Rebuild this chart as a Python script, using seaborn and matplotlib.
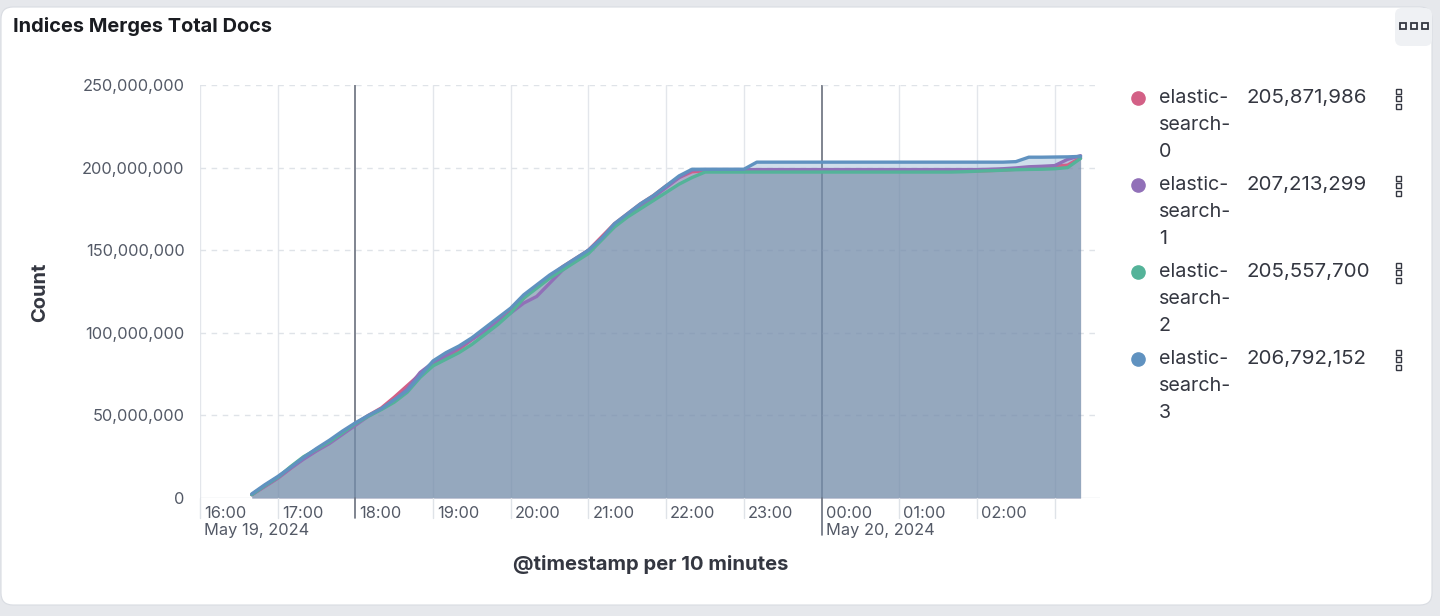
import matplotlib
matplotlib.use("Agg")
import matplotlib.pyplot as plt
import matplotlib.dates as mdates
import matplotlib.transforms as mtransforms
from matplotlib.patches import FancyBboxPatch
import seaborn as sns
import pandas as pd
import numpy as np

# series names, colours and the legend values (last value of each series)
hosts = ["elastic-search-0", "elastic-search-1", "elastic-search-2", "elastic-search-3"]
colors = ["#D36086", "#9170B8", "#54B399", "#6092C0"]
legend_values = ["205,871,986", "207,213,299", "205,557,700", "206,792,152"]

# 10 minute buckets, 16:40 -> 03:20, values in millions of docs
first_bucket = "2024-05-19 16:40"
es0 = [2, 7, 12, 18, 24, 29, 34, 39.5, 45, 50,
       54.5, 61, 68, 75, 81, 85, 90, 96, 102, 107,
       113, 121, 128, 134, 140, 145, 150, 158, 166, 172,
       178, 183, 189, 194, 197.5, 198.0, 198.0, 198.0, 198.0, 198.0,
       198.0, 198.0, 198.0, 198.0, 198.0, 198.0, 198.0, 198.0, 198.0, 198.0,
       198.0, 198.0, 198.0, 198.0, 198.0, 198.0, 198.0, 198.2, 198.5, 199.0,
       199.6, 200.2, 200.8, 201.5, 205.871986]
es1 = [2, 7, 12, 18, 23.5, 28.5, 33, 38.5, 44, 49.5,
       54, 59, 66, 76, 82, 86, 91, 96, 101, 107,
       112, 118, 122, 130, 138, 144, 150, 157, 165, 171,
       177, 182, 188, 194, 198.5, 198.8, 198.8, 198.8, 198.8, 198.8,
       198.8, 198.8, 198.8, 198.8, 198.8, 198.8, 198.8, 198.8, 198.8, 198.8,
       198.8, 198.8, 198.8, 198.8, 198.8, 198.8, 198.8, 199.0, 199.3, 199.8,
       200.5, 200.8, 201.2, 205.0, 207.213299]
es2 = [2, 7.5, 12.5, 19, 25, 29.5, 34, 39.5, 45, 49.5,
       53.5, 58, 64, 73, 80, 84, 88, 93, 99, 105,
       112, 121, 127, 133, 138, 143, 148, 156, 164, 170,
       175, 180, 185, 190, 194, 197.3, 197.3, 197.3, 197.3, 197.3,
       197.3, 197.3, 197.3, 197.3, 197.3, 197.3, 197.3, 197.3, 197.3, 197.3,
       197.3, 197.3, 197.3, 197.3, 197.3, 197.5, 197.8, 198.1, 198.4, 198.7,
       198.9, 199.0, 199.3, 200.0, 205.5577]
es3 = [2.5, 8, 13, 18.5, 24.5, 30, 35, 40.5, 45.5, 50,
       54, 59.5, 65, 74, 83, 88, 92, 97, 103, 109,
       115, 123, 129, 135, 140, 145, 150, 157, 166, 172,
       178, 183, 189, 195, 199.0, 199.0, 199.0, 199.0, 199.0, 203.3,
       203.3, 203.3, 203.3, 203.3, 203.3, 203.3, 203.3, 203.3, 203.3, 203.3,
       203.3, 203.3, 203.3, 203.3, 203.3, 203.3, 203.3, 203.3, 203.3, 203.6,
       206.3, 206.3, 206.4, 206.5, 206.792152]

hour_labels = ["16:00", "17:00", "18:00", "19:00", "20:00", "21:00",
               "22:00", "23:00", "00:00", "01:00", "02:00", ""]
date_labels = {"16:00": "May 19, 2024", "00:00": "May 20, 2024"}
dark_hours = ["18:00", "00:00"]

# long form table for seaborn
times = pd.date_range(first_bucket, periods=len(es0), freq="10min")
df = pd.concat([
    pd.DataFrame({"time": times, "count": np.array(vals) * 1e6, "host": h})
    for h, vals in zip(hosts, [es0, es1, es2, es3])
], ignore_index=True)

sns.set_theme(style="white")
plt.rcParams["font.family"] = ["Inter", "DejaVu Sans"]

W, H = 1440, 616
fig = plt.figure(figsize=(W / 100, H / 100), dpi=100)
fig.patch.set_facecolor("#e6e8ec")

# panel background drawn in pixel coordinates
bg = fig.add_axes([0, 0, 1, 1])
bg.set_xlim(0, W)
bg.set_ylim(H, 0)
bg.axis("off")
bg.add_patch(FancyBboxPatch((1, 7), 1431, 598, boxstyle="round,pad=0,rounding_size=12",
                            fc="white", ec="#d9dce2", lw=0.8))
bg.add_patch(FancyBboxPatch((1395, 8), 37, 38, boxstyle="round,pad=0,rounding_size=7",
                            fc="#eff1f4", ec="none"))
bg.plot([1403, 1414, 1425], [26, 26, 26], "s", ms=4.5, mfc="#f5f6f8", mec="#343741", mew=1.3)

# legend
for i, (h, c, v) in enumerate(zip(hosts, colors, legend_values)):
    y0 = 98 + i * 87
    bg.plot(1138, y0, "o", ms=9.5, color=c)
    for k, part in enumerate(["elastic-", "search-", h.split("-")[-1]]):
        bg.text(1159, y0 + k * 26.8, part, fontsize=14.2, color="#343741", va="center", ha="left")
    bg.text(1246, y0, v, fontsize=14.8, color="#343741", va="center", ha="left")
    bg.plot([1398, 1398, 1398], [y0 - 7.5, y0, y0 + 7.5], "s", ms=3.6, mfc="white",
            mec="#343741", mew=1.0)

# main chart
ax = fig.add_axes([200 / W, (H - 498) / H, 900 / W, 413 / H])
ax.set_facecolor("none")

x0 = pd.Timestamp("2024-05-19 16:00")
ax.set_xlim(x0, x0 + pd.Timedelta(minutes=695))
ax.set_ylim(0, 250e6)

# grid (under the areas)
hours = [x0 + pd.Timedelta(hours=k) for k in range(len(hour_labels))]
for t, lab in zip(hours, hour_labels):
    dark = lab in dark_hours
    ax.axvline(t, color="#69707d" if dark else "#e3e6eb", lw=1.2 if dark else 1.0, zorder=0.5)
for yv in np.arange(50e6, 250e6 + 1, 50e6):
    ax.axhline(yv, color="#dfe3e8", lw=1.0, ls=(0, (4, 4)), zorder=0.5)
ax.axhline(0, color="#e0e3e8", lw=1.0, zorder=0.5)

palette = dict(zip(hosts, colors))
for h in hosts:
    sub = df[df["host"] == h]
    ax.fill_between(sub["time"], sub["count"], color=palette[h], alpha=0.3, lw=0, zorder=2)
sns.lineplot(data=df, x="time", y="count", hue="host", hue_order=hosts, palette=palette,
             linewidth=2.4, legend=False, ax=ax, zorder=3)

for s in ax.spines.values():
    s.set_visible(False)

# y axis
yt = np.arange(0, 250e6 + 1, 50e6)
ax.set_yticks(yt)
ax.set_yticklabels([f"{v:,.0f}" for v in yt])
ax.tick_params(axis="y", length=0, pad=11, labelsize=11.8, labelcolor="#535966")
ax.set_ylabel("")
ax.set_xlabel("")

# x axis: tick lines below the plot with labels next to them
ax.set_xticks([])
trans = mtransforms.blended_transform_factory(ax.transData, ax.transAxes)
lab_trans = mtransforms.offset_copy(trans, fig=fig, x=4, y=0, units="dots")
for t, lab in zip(hours, hour_labels):
    tn = mdates.date2num(t)
    dark = lab in dark_hours
    length = 0.09 if lab == "00:00" else 0.048
    ax.plot([tn, tn], [0, -length], transform=trans, clip_on=False,
            color="#69707d" if dark else "#dfe3e8", lw=1.2 if dark else 1.0)
    if lab:
        ax.text(tn, -0.037, lab, transform=lab_trans, fontsize=11.8, color="#535966",
                va="center", ha="left")
    if lab in date_labels:
        ax.text(tn, -0.078, date_labels[lab], transform=lab_trans, fontsize=11.8,
                color="#535966", va="center", ha="left")

# titles
fig.text(13 / W, 1 - 27 / H, "Indices Merges Total Docs", fontsize=14.4, weight="bold",
         color="#1a1c21", va="center", ha="left")
fig.text(40 / W, 1 - 292 / H, "Count", fontsize=14.5, weight="bold", color="#343741",
         rotation=90, va="center", ha="center")
fig.text(651 / W, 1 - 565 / H, "@timestamp per 10 minutes", fontsize=14.6, weight="bold",
         color="#343741", va="center", ha="center")

fig.savefig("out.png", dpi=100, facecolor=fig.get_facecolor())
